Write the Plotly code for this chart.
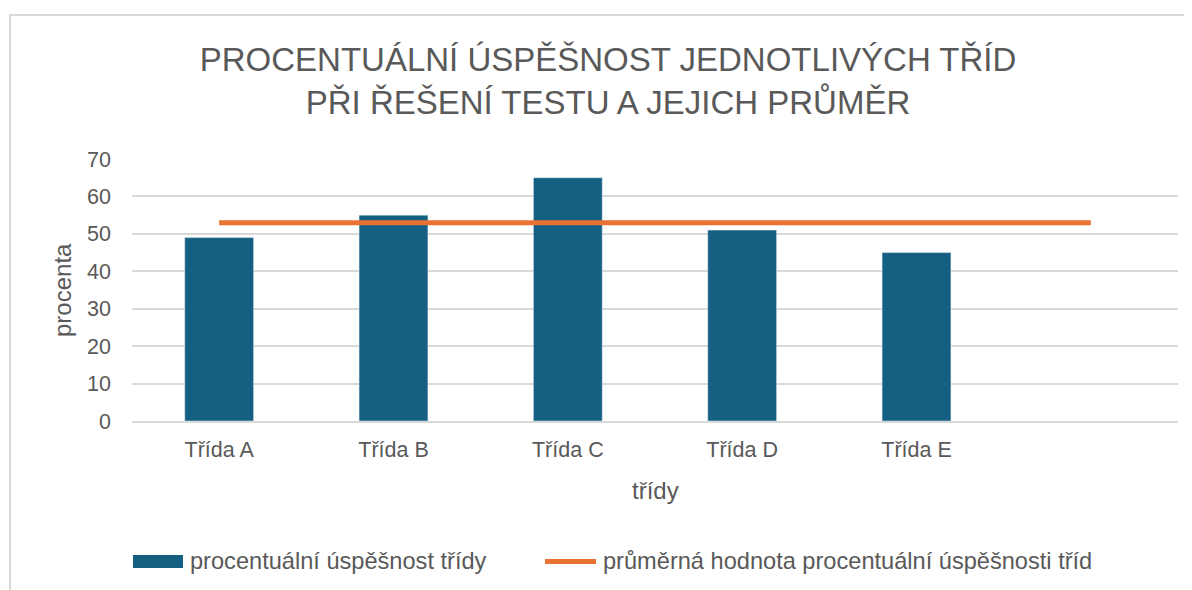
import plotly.graph_objects as go

# ---- data ----
categories = ["Třída A", "Třída B", "Třída C", "Třída D", "Třída E", " "]
bar_categories = ["Třída A", "Třída B", "Třída C", "Třída D", "Třída E"]
success_values = [49, 55, 65, 51, 45]
average_values = [53, 53, 53, 53, 53, 53]
y_ticks = [0, 10, 20, 30, 40, 50, 60, 70]

title_text = "PROCENTUÁLNÍ ÚSPĚŠNOST JEDNOTLIVÝCH TŘÍD<br>PŘI ŘEŠENÍ TESTU A JEJICH PRŮMĚR"
bar_name = "procentuální úspěšnost třídy"
line_name = "průměrná hodnota procentuální úspěšnosti tříd"

# ---- layout geometry ----
OFF = 8                      # page body margin
W, H = 1192 - OFF, 590 - OFF
PL, PR, PT, PB = 132, 1178, 159, 421   # plot area in page pixels
ML, MT = PL - OFF, PT - OFF
MR = W - (PR - OFF)
MB = H - (PB - OFF)
PW = PR - PL
PH = PB - PT
FONT = "Liberation Sans, Arial, sans-serif"
TXT = "#595959"
GRID = "#d9d9d9"
BAR_C = "#156082"
LINE_C = "#E97132"


def px_x(px):
    return (px - PL) / PW


def px_y(py):
    return (PB - py) / PH


fig = go.Figure()
fig.add_trace(go.Bar(x=bar_categories, y=success_values, name=bar_name,
                     marker=dict(color=BAR_C), showlegend=False))
fig.add_trace(go.Scatter(x=categories, y=average_values, name=line_name,
                         mode="lines", line=dict(color=LINE_C, width=5),
                         showlegend=False))

fig.update_layout(
    width=W, height=H,
    margin=dict(l=ML, r=MR, t=MT, b=MB),
    paper_bgcolor="white", plot_bgcolor="white",
    font=dict(family=FONT, color=TXT),
    bargap=0.605,
    title=dict(text=title_text, x=(608 - OFF) / W, xanchor="center", xref="container",
               y=1 - (71 - OFF) / H, yanchor="middle", yref="container",
               font=dict(size=33, color=TXT, family=FONT)),
)

fig.update_xaxes(type="category", categoryorder="array", categoryarray=categories,
                 range=[-0.5, len(categories) - 0.5],
                 showgrid=False, showline=True, linecolor=GRID, linewidth=1.5,
                 ticks="", tickfont=dict(size=21.5, color=TXT, family=FONT),
                 ticklabelstandoff=8)
fig.update_yaxes(range=[0, 70], tickvals=y_ticks, showgrid=True, gridcolor=GRID,
                 gridwidth=1.5, zeroline=False, showline=False, ticks="",
                 tickfont=dict(size=21.5, color=TXT, family=FONT),
                 ticklabelstandoff=20)

annotations = [
    dict(text="procenta", xref="paper", yref="paper", x=px_x(62), y=0.5,
         textangle=-90, showarrow=False, xanchor="center", yanchor="middle",
         font=dict(size=24, color=TXT, family=FONT)),
    dict(text="třídy", xref="paper", yref="paper", x=px_x(655), y=px_y(490),
         showarrow=False, xanchor="center", yanchor="middle",
         font=dict(size=24, color=TXT, family=FONT)),
    dict(text=bar_name, xref="paper", yref="paper", x=px_x(188), y=px_y(561),
         showarrow=False, xanchor="left", yanchor="middle",
         font=dict(size=23.6, color=TXT, family=FONT)),
    dict(text=line_name, xref="paper", yref="paper", x=px_x(601), y=px_y(561),
         showarrow=False, xanchor="left", yanchor="middle",
         font=dict(size=23.6, color=TXT, family=FONT)),
]
fig.update_layout(annotations=annotations)

shapes = [
    # chart area border
    dict(type="rect", xref="paper", yref="paper",
         x0=px_x(10), x1=px_x(1230), y0=px_y(15), y1=px_y(640),
         line=dict(color=GRID, width=2), fillcolor="rgba(0,0,0,0)", layer="below"),
    # legend swatches
    dict(type="rect", xref="paper", yref="paper",
         x0=px_x(133), x1=px_x(183), y0=px_y(555), y1=px_y(568),
         line=dict(width=0), fillcolor=BAR_C),
    dict(type="line", xref="paper", yref="paper",
         x0=px_x(545), x1=px_x(596), y0=px_y(561.5), y1=px_y(561.5),
         line=dict(color=LINE_C, width=5)),
]
fig.update_layout(shapes=shapes)

fig.write_html("out.html")
